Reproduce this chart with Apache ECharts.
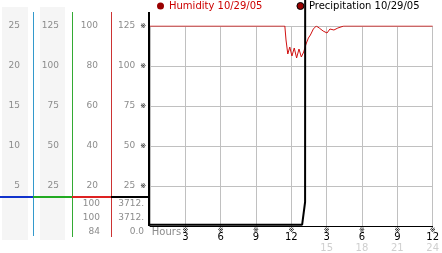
<!DOCTYPE html>
<html><head><meta charset="utf-8">
<script src="https://cdn.jsdelivr.net/npm/echarts@6/dist/echarts.min.js"></script>
<style>html,body{margin:0;padding:0;background:#fff}#c{width:442px;height:253px}</style>
</head><body><div id="c"></div>
<script>
// ---- data ----
var humidityHours = [0, 11.45, 11.55, 11.7, 11.87, 12.05, 12.25, 12.45, 12.65, 12.85, 13.05, 13.25, 13.45, 13.62, 13.87, 14.12, 14.37, 14.7, 15.03, 15.28, 15.62, 15.95, 16.45, 24];
var humidityValues = [100, 100, 93, 86, 89.5, 85, 89, 84, 88.5, 84.5, 87, 91, 94, 95.5, 98.5, 100, 99, 97.5, 96.5, 98.5, 98, 99, 100, 100];
var precipHours = [0, 12.92, 13.17, 13.33, 13.34, 24];
var precipValues = [0.8, 0.8, 15, 15, 3712, 3712];
var legendNames = ['Humidity 10/29/05', 'Precipitation 10/29/05'];
var humidityStats = ['100', '100', '84'];
var precipStats = ['3712.', '3712.', '0.0'];
var xLabelName = 'Hours';

function pairs(xs, ys){ return xs.map(function(x,i){ return [x, ys[i]]; }); }

var FONT = 'DejaVu Sans';
var GRAY = '#8c8c8c';
var chart = echarts.init(document.getElementById('c'), null, {renderer:'canvas'});

function leftAxis(max, interval, offset, marker){
  return {
    type:'value', min:0, max:max, interval:interval, position:'left', offset:offset,
    axisLine:{show:false}, axisTick:{show:false},
    splitLine:{show: marker, lineStyle:{color:'#c0c0c0', width:1}},
    axisLabel:{
      show:true, showMinLabel:false, margin: marker ? 3 : 13,
      fontFamily:FONT, fontSize:9, color:GRAY,
      formatter: function(v){ if (v===0) return ''; return marker ? '{v|'+v+'}{m|※}' : String(v); },
      rich: marker ? {v:{fontFamily:FONT,fontSize:9,color:GRAY}, m:{fontFamily:FONT,fontSize:7,color:'#000',padding:[0,0,0,5]}} : undefined
    }
  };
}

var statText = [];
[[humidityStats, 100], [precipStats, 144]].forEach(function(p){
  p[0].forEach(function(t,i){
    statText.push({type:'text', right: 442 - p[1], top: 199 + i*14, style:{text:t, font:'9px "DejaVu Sans"', fill:GRAY, textAlign:'right'}});
  });
});

chart.setOption({
  animation:false,
  backgroundColor:'#fff',
  textStyle:{fontFamily:FONT},
  legend:{
    left:157, top:1, icon:'circle', itemWidth:7, itemHeight:7, itemGap:34, padding:0,
    textStyle:{fontFamily:FONT, fontSize:10},
    data:[
      {name:legendNames[0], textStyle:{color:'#cc0000'}, itemStyle:{color:'#990000'}},
      {name:legendNames[1], textStyle:{color:'#000'}, itemStyle:{color:'#990000', borderColor:'#000', borderWidth:1}}
    ]
  },
  grid:{left:150, right:4, top:26, bottom:27, containLabel:false},
  xAxis:{
    type:'value', min:0, max:24, interval:3,
    axisLine:{show:true, lineStyle:{color:'#000', width:1}},
    axisTick:{show:false},
    splitLine:{show:true, lineStyle:{color:'#c0c0c0', width:1}},
    axisLabel:{
      margin:2, verticalAlign:'top',
      formatter:function(v){
        if (v===0) return '{h|'+xLabelName+'}';
        if (v<=12) return '{m|※}\n{b|'+v+'}';
        return '{m|※}\n{b|'+(v-12)+'}\n{g|'+v+'}';
      },
      rich:{
        h:{fontFamily:FONT, fontSize:10, color:GRAY, lineHeight:9, padding:[0,0,0,33]},
        m:{fontFamily:FONT, fontSize:7, color:'#000', lineHeight:5},
        b:{fontFamily:FONT, fontSize:10, color:'#000', lineHeight:9},
        g:{fontFamily:FONT, fontSize:10, color:'#cfcfcf', lineHeight:12}
      }
    }
  },
  yAxis:[
    leftAxis(125, 25, 1, true),
    leftAxis(100, 20, 39, false),
    leftAxis(125, 25, 78, false),
    leftAxis(25, 5, 117, false)
  ],
  graphic:[
    {type:'rect', shape:{x:2, y:7, width:26, height:233}, style:{fill:'#f5f5f5'}, z:-10},
    {type:'rect', shape:{x:40, y:7, width:25, height:233}, style:{fill:'#f5f5f5'}, z:-10},
    {type:'line', shape:{x1:33.5, y1:12, x2:33.5, y2:236}, style:{stroke:'#3399cc', lineWidth:1}},
    {type:'line', shape:{x1:72.5, y1:12, x2:72.5, y2:237}, style:{stroke:'#33aa33', lineWidth:1}},
    {type:'line', shape:{x1:111.5, y1:12, x2:111.5, y2:237}, style:{stroke:'#cc3333', lineWidth:1}},
    {type:'line', shape:{x1:149, y1:12, x2:149, y2:226}, style:{stroke:'#000', lineWidth:2}},
    {type:'line', shape:{x1:0, y1:197, x2:33, y2:197}, style:{stroke:'#1133cc', lineWidth:2}},
    {type:'line', shape:{x1:33, y1:197, x2:72, y2:197}, style:{stroke:'#22aa22', lineWidth:2}},
    {type:'line', shape:{x1:72, y1:197, x2:111, y2:197}, style:{stroke:'#dd2222', lineWidth:2}},
    {type:'line', shape:{x1:111, y1:197, x2:149, y2:197}, style:{stroke:'#000', lineWidth:2}}
  ].concat(statText),
  series:[
    {name:legendNames[0], type:'line', yAxisIndex:1, data:pairs(humidityHours, humidityValues),
     showSymbol:false, symbol:'none', lineStyle:{color:'#d01010', width:1}, itemStyle:{color:'#990000'}, z:3},
    {name:legendNames[1], type:'line', yAxisIndex:0, data:pairs(precipHours, precipValues), clip:false,
     showSymbol:false, symbol:'none', lineStyle:{color:'#000', width:2}, itemStyle:{color:'#990000'}, z:4}
  ]
});
</script></body></html>
